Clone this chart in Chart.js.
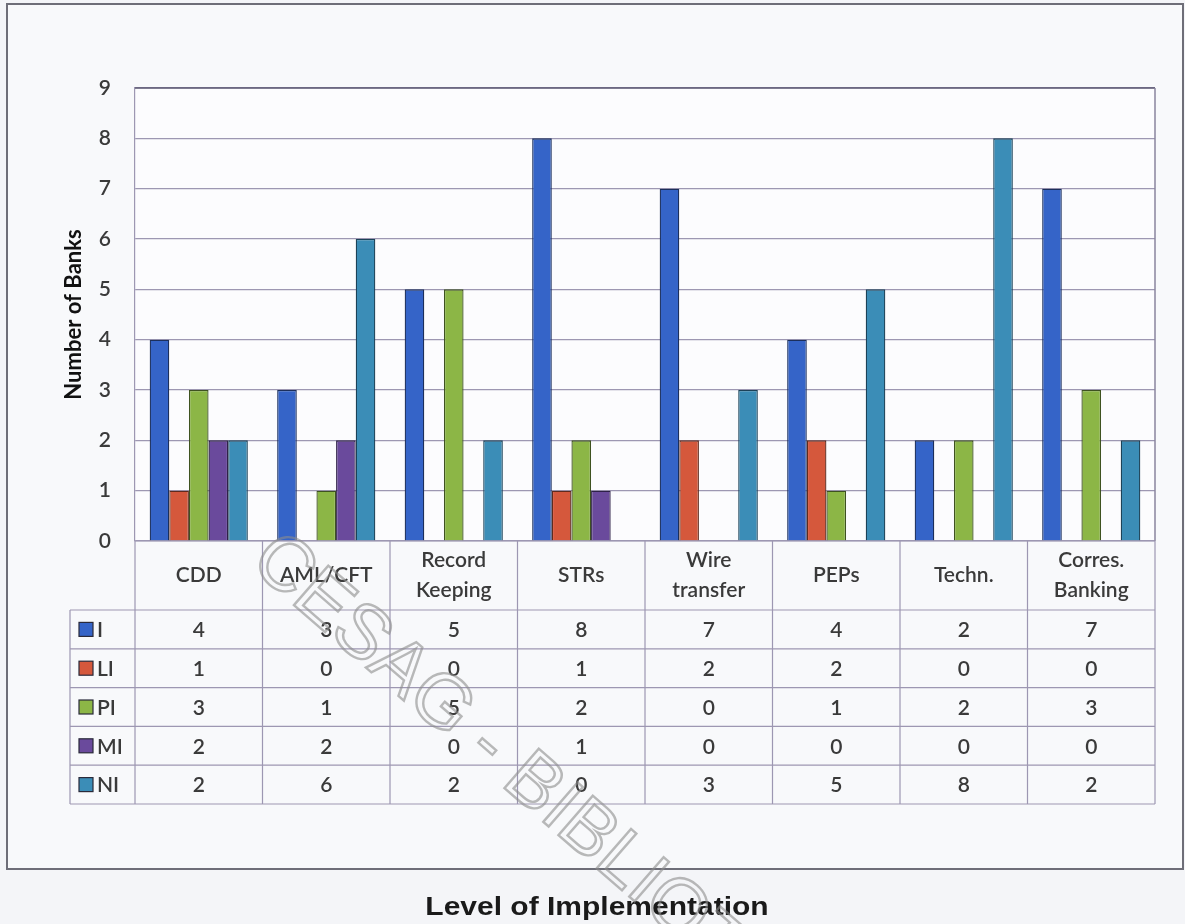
<!DOCTYPE html>
<html><head><meta charset="utf-8">
<script src="https://cdn.jsdelivr.net/npm/chart.js@4.4.1/dist/chart.umd.min.js"></script>
<style>html,body{margin:0;padding:0;background:#f4f5f8;}canvas{display:block;}</style>
</head><body>
<canvas id="c" width="1185" height="924"></canvas>
<script>
// ---- data ----
const categories = [["CDD"],["AML/CFT"],["Record","Keeping"],["STRs"],["Wire","transfer"],["PEPs"],["Techn."],["Corres.","Banking"]];
const seriesNames = ["I","LI","PI","MI","NI"];
const valuesI  = [4,3,5,8,7,4,2,7];
const valuesLI = [1,0,0,1,2,2,0,0];
const valuesPI = [3,1,5,2,0,1,2,3];
const valuesMI = [2,2,0,1,0,0,0,0];
const valuesNI = [2,6,2,0,3,5,8,2];
const yTickValues = [0,1,2,3,4,5,6,7,8,9];
const yTitle = "Number of Banks";
const xTitle = "Level of Implementation";
const watermark = "CESAG - BIBLIOTHEQUE";

// ---- styles ----
const fillColors   = ["#3564c8","#d5583c","#8cb646","#6a4a9c","#3b8db7"];
const borderColors = ["#1c2f5c","#5e2a1e","#3e5220","#2e2148","#1c4258"];
const gridColor = "#9d97b2";
const textColor = "#3a3a3a";
const FONT = "Lato, 'Open Sans', sans-serif";
const TEXT_WEIGHT = "600";

const seriesValues = [valuesI, valuesLI, valuesPI, valuesMI, valuesNI];

const bgPlugin = {
  id: 'bg',
  beforeDraw(chart) {
    const {ctx, chartArea: a} = chart;
    ctx.save();
    ctx.fillStyle = '#f4f5f8';
    ctx.fillRect(0, 0, chart.width, chart.height);
    ctx.fillStyle = '#f8f9fb';
    ctx.fillRect(7, 4, 1176, 865);
    ctx.fillStyle = '#fcfcfe';
    ctx.fillRect(a.left, a.top, a.right - a.left, a.bottom - a.top);
    ctx.restore();
  }
};

const tablePlugin = {
  id: 'table',
  afterDraw(chart) {
    const {ctx, chartArea: a, scales: {x}} = chart;
    const n = categories.length;
    const cw = (a.right - a.left) / n;
    const headerBottom = a.bottom + 69;
    const rowH = 38.8;
    const tableBottom = headerBottom + rowH * seriesNames.length;
    const legendLeft = 70;
    ctx.save();
    // outer frame
    ctx.strokeStyle = '#6e6e78';
    ctx.lineWidth = 2;
    ctx.strokeRect(7, 4, 1176, 865);
    // plot frame top and right
    ctx.lineWidth = 1.5;
    ctx.strokeStyle = '#5d5872';
    ctx.beginPath();
    ctx.moveTo(a.left, a.top); ctx.lineTo(a.right, a.top);
    ctx.stroke();
    ctx.strokeStyle = '#8a859e';
    ctx.beginPath();
    ctx.moveTo(a.right, a.top); ctx.lineTo(a.right, a.bottom);
    ctx.stroke();
    // table lines
    ctx.strokeStyle = gridColor;
    ctx.lineWidth = 1.2;
    ctx.beginPath();
    for (let k = 0; k <= n; k++) {
      const xx = a.left + k * cw;
      ctx.moveTo(xx, a.bottom); ctx.lineTo(xx, tableBottom);
    }
    ctx.moveTo(legendLeft, headerBottom); ctx.lineTo(legendLeft, tableBottom);
    for (let r = 0; r <= seriesNames.length; r++) {
      const yy = headerBottom + r * rowH;
      ctx.moveTo(legendLeft, yy); ctx.lineTo(a.right, yy);
    }
    ctx.moveTo(a.left, a.bottom); ctx.lineTo(a.right, a.bottom);
    ctx.stroke();
    // header labels
    ctx.fillStyle = textColor;
    ctx.font = TEXT_WEIGHT + " 21px " + FONT;
    ctx.textAlign = 'center';
    ctx.textBaseline = 'middle';
    const hMid = (a.bottom + headerBottom) / 2;
    categories.forEach((lines, i) => {
      const cx = x.getPixelForValue(i);
      const lh = 30;
      lines.forEach((t, j) => {
        ctx.fillText(t, cx, hMid + (j - (lines.length - 1) / 2) * lh);
      });
    });
    // values
    seriesValues.forEach((vals, r) => {
      const cy = headerBottom + (r + 0.5) * rowH + 1;
      vals.forEach((v, i) => {
        ctx.fillText(String(v), x.getPixelForValue(i), cy);
      });
    });
    // legend keys
    ctx.textAlign = 'left';
    seriesNames.forEach((nm, r) => {
      const cy = headerBottom + (r + 0.5) * rowH;
      ctx.fillStyle = fillColors[r];
      ctx.fillRect(79, cy - 7, 14, 14);
      ctx.strokeStyle = '#2a2a3a';
      ctx.lineWidth = 1.2;
      ctx.strokeRect(79, cy - 7, 14, 14);
      ctx.fillStyle = textColor;
      ctx.fillText(nm, 97, cy + 1);
    });
    // title
    ctx.save();
    ctx.fillStyle = '#1a1a1a';
    ctx.font = "bold 25px 'Liberation Sans', Arial, sans-serif";
    ctx.textAlign = 'center';
    ctx.textBaseline = 'alphabetic';
    ctx.translate(597, 915);
    ctx.scale(1.2, 1);
    ctx.fillText(xTitle, 0, 0);
    ctx.restore();
    // watermark
    ctx.save();
    ctx.translate(282, 567);
    ctx.rotate(41 * Math.PI / 180);
    ctx.font = "76px 'Liberation Sans', Arial, sans-serif";
    ctx.textAlign = 'left';
    ctx.textBaseline = 'middle';
    ctx.strokeStyle = 'rgba(140,140,140,0.6)';
    ctx.lineWidth = 2.4;
    ctx.strokeText(watermark, -27, 0);
    ctx.restore();
    ctx.restore();
  }
};

new Chart(document.getElementById('c'), {
  type: 'bar',
  data: {
    labels: categories.map(c => c.join(' ')),
    datasets: seriesNames.map((nm, i) => ({
      label: nm,
      data: seriesValues[i],
      backgroundColor: fillColors[i],
      borderColor: borderColors[i],
      borderWidth: 1.3,
      categoryPercentage: 0.77,
      barPercentage: 1.0
    }))
  },
  options: {
    responsive: false,
    animation: false,
    devicePixelRatio: 1,
    layout: { padding: { left: 58, top: 88, right: 30, bottom: 0 } },
    plugins: { legend: { display: false }, title: { display: false }, tooltip: { enabled: false } },
    scales: {
      x: {
        display: true,
        ticks: { display: false },
        grid: { display: false, drawTicks: false },
        border: { display: false },
        afterFit(s) { s.height = 924 - 541; }
      },
      y: {
        min: 0, max: 9,
        afterBuildTicks(s) { s.ticks = yTickValues.map(v => ({ value: v })); },
        ticks: { color: textColor, font: { family: FONT, size: 21, weight: TEXT_WEIGHT }, padding: 24 },
        grid: { color: gridColor, lineWidth: 1.2, drawTicks: false },
        border: { display: true, color: gridColor, width: 1.2 },
        title: { display: true, text: yTitle, color: '#111', font: { family: FONT, size: 22, weight: 'bold' }, padding: { top: 3, bottom: 0 } },
        afterFit(s) { s.width = 135 - 58; }
      }
    }
  },
  plugins: [bgPlugin, tablePlugin]
});
</script>
</body></html>
